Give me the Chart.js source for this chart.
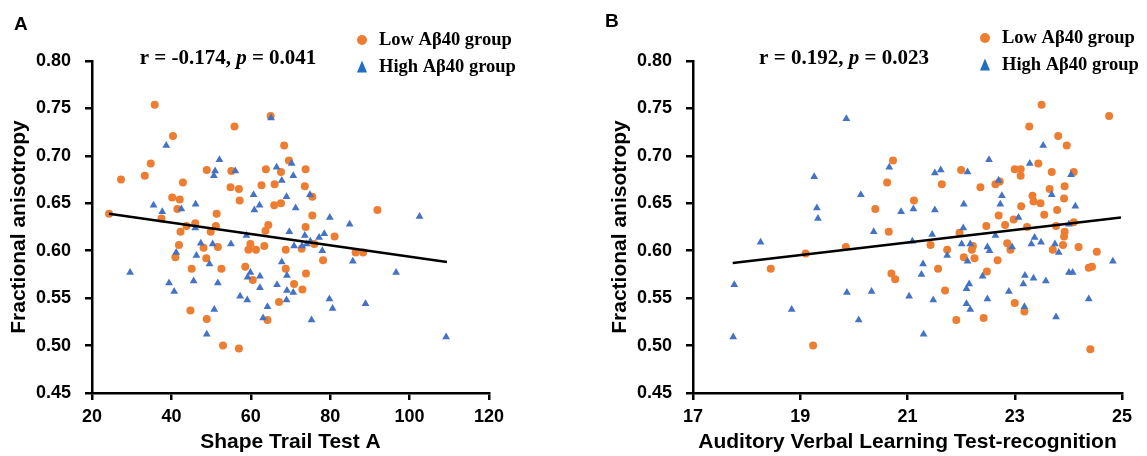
<!DOCTYPE html>
<html>
<head>
<meta charset="utf-8">
<script src="https://cdn.jsdelivr.net/npm/chart.js@4"></script>
<style>
html, body { margin: 0; padding: 0; background: #fff; }
body { width: 1147px; height: 456px; position: relative; overflow: hidden; }
canvas { position: absolute; top: 0; }
#chartA { left: 0; }
#chartB { left: 601px; }
</style>
</head>
<body>
<canvas id="chartA" width="573" height="456"></canvas>
<canvas id="chartB" width="546" height="456"></canvas>
<script>
// ---- data ----
const yTicks = [0.45, 0.50, 0.55, 0.60, 0.65, 0.70, 0.75, 0.80];
const xTicksA = [20, 40, 60, 80, 100, 120];
const xTicksB = [17, 19, 21, 23, 25];

// panel A: Shape Trail Test A vs FA
const lowA = [
  [35.8,0.754],[40.4,0.721],[34.8,0.692],[27.3,0.675],[33.3,0.679],[42.9,0.672],[48.9,0.685],[54.9,0.667],
  [55.1,0.684],[55.9,0.731],[40.2,0.656],[42.1,0.654],[41.5,0.644],[24.3,0.639],[37.5,0.634],[51.4,0.639],
  [43.8,0.626],[46.0,0.629],[51.2,0.626],[42.3,0.620],[49.9,0.620],[41.9,0.606],[48.1,0.603],[51.7,0.604],
  [41.0,0.593],[48.8,0.592],[45.1,0.581],[52.6,0.581],[44.8,0.537],[48.9,0.528],[53.0,0.500],
  [65.0,0.742],[68.4,0.711],[69.6,0.695],[63.8,0.686],[67.6,0.683],[73.8,0.686],[57.0,0.665],[62.7,0.669],
  [66.0,0.670],[73.6,0.668],[57.2,0.653],[75.5,0.657],[65.9,0.648],[67.6,0.650],[75.5,0.637],[64.4,0.627],
  [63.7,0.621],[73.8,0.625],[81.1,0.615],[59.9,0.607],[59.4,0.601],[61.3,0.601],[63.4,0.605],[68.8,0.601],
  [72.8,0.602],[76.0,0.607],[78.2,0.590],[86.4,0.598],[88.3,0.598],[58.6,0.583],[60.5,0.569],[68.8,0.581],
  [73.9,0.576],[70.9,0.565],[73.0,0.559],[67.1,0.546],[64.2,0.527],[57.0,0.497],[91.9,0.643]
];
const highA = [
  [38.7,0.711],[52.1,0.696],[51.0,0.684],[50.7,0.679],[35.5,0.648],[37.7,0.641],[42.5,0.644],[46.1,0.649],
  [46.0,0.624],[47.4,0.608],[50.4,0.607],[55.0,0.607],[41.2,0.598],[46.3,0.595],[49.6,0.586],[29.6,0.577],
  [39.4,0.566],[45.6,0.568],[51.7,0.566],[40.7,0.557],[50.8,0.538],[48.9,0.512],
  [65.1,0.740],[56.1,0.684],[66.5,0.688],[70.3,0.692],[70.7,0.679],[67.8,0.674],[60.7,0.659],[69.0,0.657],
  [74.9,0.659],[62.2,0.648],[60.9,0.643],[71.3,0.645],[79.9,0.635],[84.9,0.628],[58.9,0.616],[69.7,0.620],
  [73.6,0.616],[77.2,0.614],[78.5,0.618],[75.0,0.610],[70.9,0.605],[72.9,0.605],[74.1,0.607],[78.0,0.600],
  [85.7,0.589],[67.8,0.588],[59.9,0.577],[59.2,0.572],[62.3,0.573],[69.1,0.574],[62.3,0.561],[66.6,0.564],
  [69.1,0.558],[70.7,0.556],[69.0,0.548],[57.3,0.552],[59.1,0.548],[64.2,0.541],[63.1,0.529],[79.8,0.549],
  [80.6,0.539],[75.3,0.527],[88.9,0.544],[102.5,0.636],[96.6,0.577],[109.2,0.509]
];
const fitA = [[24.3,0.639],[109.4,0.588]];

// panel B: AVLT recognition vs FA
const lowB = [
  [20.73,0.695],[20.62,0.672],[20.40,0.644],[20.65,0.620],[19.85,0.604],[21.12,0.653],[21.64,0.670],[22.00,0.685],
  [22.36,0.667],[21.43,0.606],[21.74,0.601],[21.97,0.619],[22.22,0.605],[22.20,0.601],[22.05,0.593],[22.25,0.592],
  [20.70,0.576],[20.77,0.570],[21.57,0.581],[21.70,0.558],[21.91,0.527],[22.47,0.626],[22.42,0.529],[18.45,0.581],
  [19.10,0.597],[19.24,0.500],[23.50,0.754],[24.76,0.742],[23.27,0.731],[23.81,0.721],[23.97,0.711],[23.44,0.692],
  [23.00,0.686],[23.11,0.686],[23.11,0.679],[23.69,0.683],[24.10,0.683],[22.72,0.673],[22.64,0.670],[23.93,0.668],
  [23.65,0.665],[23.92,0.655],[23.33,0.658],[23.35,0.652],[23.48,0.650],[23.12,0.647],[23.79,0.643],[23.55,0.638],
  [22.70,0.637],[22.98,0.633],[22.82,0.627],[23.77,0.626],[24.10,0.630],[23.23,0.625],[23.93,0.620],[23.92,0.615],
  [22.86,0.608],[22.92,0.601],[23.90,0.606],[23.71,0.601],[24.19,0.604],[24.53,0.599],[22.68,0.590],[22.48,0.578],
  [24.38,0.582],[24.44,0.583],[23.00,0.545],[23.18,0.536],[24.41,0.496]
];
const highB = [
  [19.86,0.739],[19.26,0.678],[19.31,0.645],[19.33,0.634],[20.13,0.659],[18.26,0.609],[17.77,0.564],[17.75,0.509],
  [18.84,0.538],[19.87,0.556],[20.09,0.527],[20.33,0.557],[20.37,0.620],[20.66,0.688],[20.88,0.641],[21.11,0.644],
  [21.09,0.610],[21.03,0.552],[21.29,0.586],[21.26,0.575],[21.30,0.512],[21.48,0.548],[21.51,0.682],[21.62,0.685],
  [21.51,0.643],[21.46,0.617],[21.74,0.595],[22.12,0.683],[22.05,0.649],[22.04,0.624],[22.01,0.607],[22.17,0.607],
  [22.12,0.589],[22.15,0.565],[22.10,0.560],[22.10,0.544],[22.17,0.538],[22.40,0.573],[22.52,0.696],[23.53,0.711],
  [23.28,0.692],[24.05,0.680],[22.70,0.674],[22.76,0.658],[23.69,0.659],[24.13,0.647],[22.73,0.649],[23.07,0.635],
  [24.01,0.628],[22.64,0.616],[23.37,0.614],[23.49,0.609],[23.31,0.607],[23.75,0.607],[22.95,0.604],[22.49,0.604],
  [22.53,0.600],[23.82,0.598],[24.83,0.589],[23.19,0.574],[23.35,0.571],[23.16,0.565],[23.58,0.568],[24.01,0.577],
  [24.08,0.577],[22.89,0.557],[22.49,0.549],[24.38,0.549],[23.18,0.541],[23.77,0.530]
];
const fitB = [[17.74,0.587],[24.98,0.635]];

const ORANGE = '#ED7D31';
const BLUE = '#4472C4';
const SANS = '"Liberation Sans", Arial, sans-serif';
const SERIF = '"Liberation Serif", "Times New Roman", serif';

// letter, r/p text and the small legend, drawn on top
const panelText = {
  id: 'panelText',
  afterDraw(chart, args, o) {
    const ctx = chart.ctx;
    ctx.save();
    ctx.fillStyle = '#000';
    ctx.textBaseline = 'middle';
    ctx.textAlign = 'left';
    ctx.font = 'bold 19px ' + SANS;
    ctx.fillText(o.letter, o.letterX, o.letterY);

    const parts = [['bold', 'r = ' + o.r + ', '], ['italic bold', 'p'], ['bold', ' = ' + o.p]];
    let total = 0;
    parts.forEach(p => { ctx.font = p[0] + ' 21px ' + SERIF; total += ctx.measureText(p[1]).width; });
    let x = o.statX - total / 2;
    parts.forEach(p => {
      ctx.font = p[0] + ' 21px ' + SERIF;
      ctx.fillText(p[1], x, o.statY);
      x += ctx.measureText(p[1]).width;
    });

    // legend
    ctx.font = 'bold 18.5px ' + SERIF;
    ctx.fillStyle = ORANGE;
    ctx.beginPath();
    ctx.arc(o.legX, o.legY1, 5, 0, Math.PI * 2);
    ctx.fill();
    ctx.fillStyle = '#1F6FC5';
    ctx.beginPath();
    ctx.moveTo(o.legX, o.legY2 - 6.5);
    ctx.lineTo(o.legX + 5, o.legY2 + 5.5);
    ctx.lineTo(o.legX - 5, o.legY2 + 5.5);
    ctx.closePath();
    ctx.fill();
    ctx.fillStyle = '#000';
    ctx.fillText('Low A\u03B240 group', o.legX + 17, o.legY1);
    ctx.fillText('High A\u03B240 group', o.legX + 17, o.legY2);
    ctx.restore();
  }
};

function pts(arr) {
  return arr.map(p => ({ x: p[0], y: p[1] }));
}

function makeChart(id, low, high, fit, xTicks, xTitle, textOpts) {
  const tickFont = { family: SANS, size: 18, weight: 'bold' };
  const titleFont = { family: SANS, size: 21, weight: 'bold' };
  return new Chart(document.getElementById(id), {
    type: 'scatter',
    data: {
      datasets: [{
        label: 'fit',
        data: pts(fit),
        showLine: true,
        borderColor: '#000',
        borderWidth: 2.5,
        pointRadius: 0,
        order: 0
      }, {
        label: 'High A\u03B240 group',
        data: pts(high),
        pointStyle: 'triangle',
        pointRadius: 4.5,
        pointBorderWidth: 0,
        backgroundColor: BLUE,
        borderColor: BLUE,
        order: 1
      }, {
        label: 'Low A\u03B240 group',
        data: pts(low),
        pointStyle: 'circle',
        pointRadius: 4,
        pointBorderWidth: 0,
        backgroundColor: ORANGE,
        borderColor: ORANGE,
        order: 2
      }]
    },
    options: {
      responsive: false,
      animation: false,
      events: [],
      layout: { padding: { top: 61, left: 0, right: id === 'chartA' ? 84 : 25, bottom: 0 } },
      plugins: {
        legend: { display: false },
        tooltip: { enabled: false },
        panelText: textOpts
      },
      scales: {
        x: {
          type: 'linear',
          min: xTicks[0],
          max: xTicks[xTicks.length - 1],
          afterBuildTicks: s => { s.ticks = xTicks.map(v => ({ value: v })); },
          afterFit: s => { s.height = 63; },
          border: { color: '#000', width: 2.5 },
          grid: { drawOnChartArea: false, color: '#000', lineWidth: 2.5, tickLength: 7 },
          ticks: { color: '#000', font: tickFont, padding: 6, maxRotation: 0 },
          title: { display: true, text: xTitle, color: '#000', font: titleFont, padding: { top: 0, bottom: 1 } }
        },
        y: {
          type: 'linear',
          min: 0.45,
          max: 0.80,
          afterBuildTicks: s => { s.ticks = yTicks.map(v => ({ value: v })); },
          afterFit: s => { s.width = 92; },
          border: { color: '#000', width: 2.5 },
          grid: { drawOnChartArea: false, color: '#000', lineWidth: 2.5, tickLength: 7 },
          ticks: { color: '#000', font: tickFont, padding: 14, callback: v => v.toFixed(2) },
          title: { display: true, text: 'Fractional anisotropy', color: '#000', font: titleFont, padding: { top: 7, bottom: 0 } }
        }
      }
    },
    plugins: [panelText]
  });
}

makeChart('chartA', lowA, highA, fitA, xTicksA, 'Shape Trail Test A', {
  letter: 'A', letterX: 14, letterY: 25,
  r: '-0.174', p: '0.041', statX: 228, statY: 59,
  legX: 362, legY1: 40, legY2: 67
});
makeChart('chartB', lowB, highB, fitB, xTicksB, 'Auditory Verbal Learning Test-recognition', {
  letter: 'B', letterX: 4, letterY: 22,
  r: '0.192', p: '0.023', statX: 243, statY: 59,
  legX: 384, legY1: 38, legY2: 65
});
</script>
</body>
</html>
